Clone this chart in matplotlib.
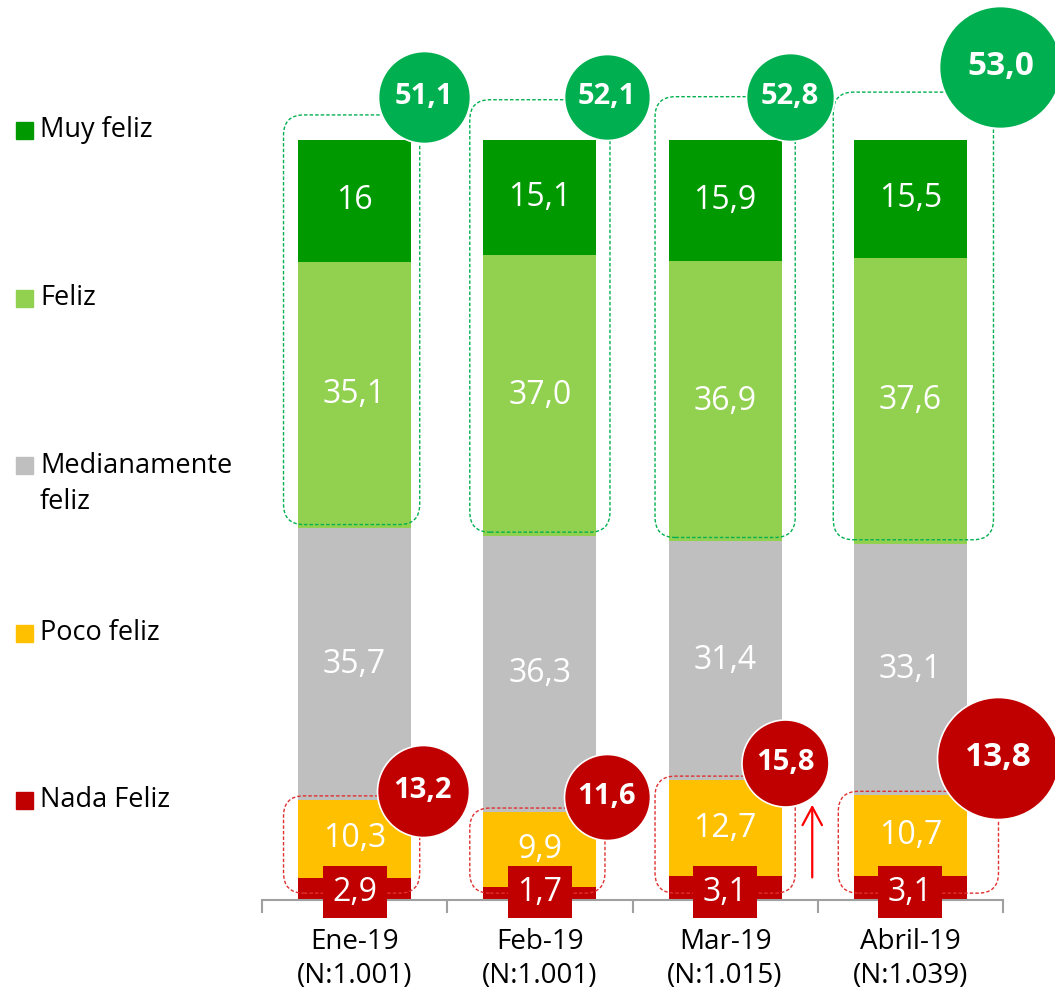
import numpy as np
import matplotlib.pyplot as plt
from matplotlib.patches import FancyBboxPatch, Rectangle

plt.rcParams['font.family'] = ['Open Sans', 'DejaVu Sans']

# data
months = ['Ene-19\n(N:1.001)', 'Feb-19\n(N:1.001)', 'Mar-19\n(N:1.015)', 'Abril-19\n(N:1.039)']
nada = [2.9, 1.7, 3.1, 3.1]
poco = [10.3, 9.9, 12.7, 10.7]
mediana = [35.7, 36.3, 31.4, 33.1]
feliz = [35.1, 37.0, 36.9, 37.6]
muy = [16, 15.1, 15.9, 15.5]
top_txt = ['51,1', '52,1', '52,8', '53,0']      # feliz + muy feliz
low_txt = ['13,2', '11,6', '15,8', '13,8']      # nada + poco
legend_labels = ['Muy feliz', 'Feliz', 'Medianamente\nfeliz', 'Poco feliz', 'Nada Feliz']

c_muy, c_feliz, c_med, c_poco, c_nada = '#009900', '#92D050', '#BFBFBF', '#FFC000', '#C00000'
c_green_circ = '#00B050'


def lab(v):
    if v == 16:
        return '16'
    return ('%.1f' % v).replace('.', ',')


fig = plt.figure(figsize=(10.55, 10), dpi=100)
px_per_unit = 7.6
ax = fig.add_axes([262 / 1055, 0.1, (1003 - 262) / 1055, 0.897])
ax.set_xlim(-0.5, 3.5)
ax.set_ylim(0, 897 / px_per_unit)
x = np.arange(len(months))
w = 113 / 185

series = [nada, poco, mediana, feliz, muy]
colors = [c_nada, c_poco, c_med, c_feliz, c_muy]
bottom = np.zeros(len(months))
for vals, col in zip(series, colors):
    ax.bar(x, vals, w, bottom=bottom, color=col, zorder=2)
    if col != c_nada:
        for i, v in enumerate(vals):
            ax.text(x[i], bottom[i] + v / 2, lab(v), color='white', fontsize=23,
                    ha='center', va='center', zorder=5)
    bottom += np.array(vals)

# nada feliz labels in red boxes
for i, v in enumerate(nada):
    ax.text(x[i], 1.0, lab(v), color='white', fontsize=23, ha='center', va='center', zorder=6,
            bbox=dict(boxstyle='square,pad=0.3', fc=c_nada, ec='none'))

# dashed rounded boxes
asp = 185 / px_per_unit
green_l = [-71, -70, -70, -77]
green_r = [65, 70, 70, 83]
green_top = [103.3, 105.3, 105.7, 106.3]
red_l = [-71, -70, -70, -72]
red_r = [65, 65, 70, 88]
for i in range(len(months)):
    b0 = nada[i] + poco[i] + mediana[i]
    x0 = x[i] + green_l[i] / 185
    bw = (green_r[i] - green_l[i]) / 185
    p = FancyBboxPatch((x0, b0 + 0.5), bw, green_top[i] - b0 - 0.5,
                       boxstyle='round,pad=0,rounding_size=0.11', mutation_aspect=asp,
                       fc='none', ec=c_green_circ, lw=1, ls=(0, (2.5, 1.5)), zorder=3)
    ax.add_patch(p)
    t = nada[i] + poco[i]
    x0 = x[i] + red_l[i] / 185
    bw = (red_r[i] - red_l[i]) / 185
    p = FancyBboxPatch((x0, 0.9), bw, t + 0.5 - 0.9,
                       boxstyle='round,pad=0,rounding_size=0.11', mutation_aspect=asp,
                       fc='none', ec='#E03030', lw=1, ls=(0, (2.5, 1.5)), zorder=3)
    ax.add_patch(p)

# circles
g_dx = [69, 67, 65, 90]
g_py = [97, 97, 97, 67]
g_d = [92, 86, 88, 122]
r_dx = [68, 67, 60, 88]
r_py = [791, 797, 763, 758]
r_d = [92, 86, 87, 122]
for i in range(len(months)):
    fs = 24 if i == 3 else 21
    gx = x[i] + g_dx[i] / 185
    gy = (900 - g_py[i]) / px_per_unit
    ax.scatter([gx], [gy], s=(g_d[i] * 0.72) ** 2, color=c_green_circ, edgecolor='white',
               linewidth=1.2, zorder=7, clip_on=False)
    ax.text(gx, gy, top_txt[i], color='white', fontsize=fs,
            fontweight='bold', ha='center', va='center', zorder=8)
    rx = x[i] + r_dx[i] / 185
    ry = (900 - r_py[i]) / px_per_unit
    ax.scatter([rx], [ry], s=(r_d[i] * 0.72) ** 2, color=c_nada, edgecolor='white',
               linewidth=1.2, zorder=7, clip_on=False)
    ax.text(rx, ry, low_txt[i], color='white', fontsize=fs,
            fontweight='bold', ha='center', va='center', zorder=8)

# red arrow in March
ax.annotate('', xy=(2 + 87 / 185, 12.9), xytext=(2 + 87 / 185, 2.6),
            arrowprops=dict(arrowstyle='->,head_length=1.3,head_width=0.7', color='#FF0000', lw=1.6),
            zorder=6)

# axes styling
for s in ['left', 'right', 'top']:
    ax.spines[s].set_visible(False)
ax.spines['bottom'].set_color('#A0A0A0')
ax.spines['bottom'].set_linewidth(1.5)
ax.set_yticks([])
ax.set_xticks(x)
ax.set_xticklabels(months, fontsize=20, linespacing=1.3)
ax.tick_params(axis='x', which='major', length=0, pad=20)
ax.set_xticks(np.arange(-0.5, 4, 1), minor=True)
ax.tick_params(axis='x', which='minor', length=9, width=1.5, color='#A0A0A0', direction='out')

# legend on the left
leg_y = [130, 298, 484, 633, 800]
for lbl, col, yy in zip(legend_labels, colors[::-1], leg_y):
    sq_y = 466 if '\n' in lbl else yy
    fig.patches.append(Rectangle((16 / 1055, 1 - (sq_y + 8.5) / 1000), 17 / 1055, 17 / 1000,
                                 transform=fig.transFigure, color=col))
    fig.text(40 / 1055, 1 - yy / 1000, lbl, fontsize=19.5, va='center', ha='left',
             linespacing=1.4)

fig.savefig('out.png', dpi=100)
